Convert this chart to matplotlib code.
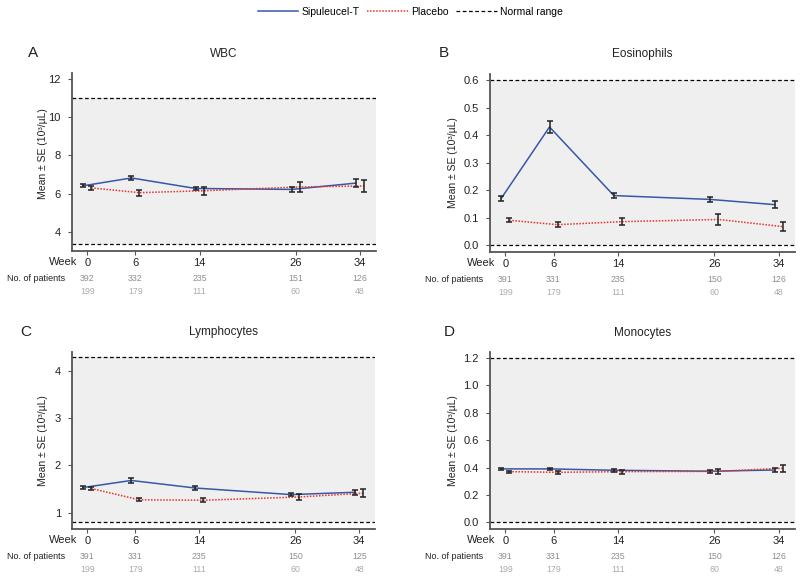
import numpy as np
import matplotlib
matplotlib.use("Agg")
import matplotlib.pyplot as plt
import matplotlib.transforms as mtransforms
from matplotlib.lines import Line2D

plt.rcParams["font.family"] = ["Liberation Sans", "DejaVu Sans"]

weeks = [0, 6, 14, 26, 34]

panels = ["A", "B", "C", "D"]
titles = ["WBC", "Eosinophils", "Lymphocytes", "Monocytes"]

sip_mean = [
    [6.41, 6.82, 6.27, 6.22, 6.55],
    [0.170, 0.430, 0.180, 0.166, 0.147],
    [1.53, 1.68, 1.52, 1.38, 1.43],
    [0.390, 0.390, 0.380, 0.373, 0.382],
]
sip_se = [
    [0.07, 0.12, 0.10, 0.15, 0.20],
    [0.008, 0.022, 0.010, 0.010, 0.012],
    [0.03, 0.05, 0.04, 0.04, 0.05],
    [0.006, 0.010, 0.010, 0.010, 0.012],
]
pla_mean = [
    [6.30, 6.05, 6.15, 6.35, 6.40],
    [0.090, 0.074, 0.085, 0.093, 0.067],
    [1.51, 1.27, 1.26, 1.33, 1.41],
    [0.370, 0.365, 0.370, 0.372, 0.395],
]
pla_se = [
    [0.12, 0.15, 0.22, 0.27, 0.32],
    [0.007, 0.008, 0.012, 0.020, 0.016],
    [0.04, 0.03, 0.04, 0.07, 0.08],
    [0.008, 0.012, 0.015, 0.020, 0.025],
]
normal_range = [(3.35, 11.0), (0.0, 0.6), (0.8, 4.3), (0.0, 1.2)]
ylims = [(3.0, 12.3), (-0.024, 0.624), (0.65, 4.41), (-0.049, 1.241)]
yticks = [[4, 6, 8, 10, 12],
          [0.0, 0.1, 0.2, 0.3, 0.4, 0.5, 0.6],
          [1, 2, 3, 4],
          [0.0, 0.2, 0.4, 0.6, 0.8, 1.0, 1.2]]
yfmt = ["%d", "%.1f", "%d", "%.1f"]

n_sip = [[392, 332, 235, 151, 126],
         [391, 331, 235, 150, 126],
         [391, 331, 235, 150, 125],
         [391, 331, 235, 150, 126]]
n_pla = [[199, 179, 111, 60, 48]] * 4

blue = "#3658a8"
red = "#e8322a"
shade = "#efefef"
spine_col = "#555555"
txt = "#222222"

fig = plt.figure(figsize=(8, 5.83), dpi=100)

# [left, bottom, width, height]
positions = [
    [0.090, 0.5695, 0.380, 0.305],
    [0.6125, 0.5685, 0.381, 0.305],
    [0.090, 0.0926, 0.379, 0.304],
    [0.6125, 0.0926, 0.381, 0.303],
]
letter_x = [-0.128, -0.151, -0.152, -0.135]
ylab_pos = [(-0.079, 0.548), (-0.105, 0.5), (-0.079, 0.5), (-0.105, 0.5)]

off = 0.5
for i in range(4):
    ax = fig.add_axes(positions[i])
    lo, hi = normal_range[i]
    ax.axhspan(lo, hi, color=shade, zorder=0, lw=0)
    ax.axhline(lo, color="k", ls=(0, (3, 2)), lw=0.9, zorder=1)
    ax.axhline(hi, color="k", ls=(0, (3, 2)), lw=0.9, zorder=1)

    xs = np.array(weeks) - off
    xp = np.array(weeks) + off
    ax.plot(xs, sip_mean[i], color=blue, lw=1.1, zorder=3)
    ax.plot(xp, pla_mean[i], color=red, lw=1.1, ls=(0, (1, 1)), zorder=3)
    ax.errorbar(xs, sip_mean[i], yerr=sip_se[i], fmt="none", ecolor="#222222",
                elinewidth=1.1, capsize=2.5, capthick=1.1, zorder=4)
    ax.errorbar(xp, pla_mean[i], yerr=pla_se[i], fmt="none", ecolor="#222222",
                elinewidth=1.1, capsize=2.5, capthick=1.1, zorder=4)

    ax.set_xlim(-1.9, 36.0)
    ax.set_ylim(*ylims[i])
    ax.set_yticks(yticks[i])
    ax.set_yticklabels([yfmt[i] % v for v in yticks[i]], fontsize=8, color=txt)
    ax.set_xticks(weeks)
    ax.set_xticklabels([str(w) for w in weeks], fontsize=8, color=txt)
    ax.tick_params(axis="x", length=3, color=spine_col, pad=2)
    ax.tick_params(axis="y", length=3, color=spine_col, pad=5)
    for s in ["top", "right"]:
        ax.spines[s].set_visible(False)
    for s in ["left", "bottom"]:
        ax.spines[s].set_color(spine_col)
        ax.spines[s].set_linewidth(1.3)
    ax.set_ylabel("Mean ± SE (10³/µL)", fontsize=7.5, color=txt)
    ax.yaxis.set_label_coords(*ylab_pos[i])

    ax.text(0.016, -0.062, "Week", transform=ax.transAxes, ha="right", va="center",
            fontsize=8, color=txt)
    ax.text(-0.214, -0.157, "No. of patients",
            transform=ax.transAxes, ha="left", va="center", fontsize=6.5, color=txt)
    trans = mtransforms.blended_transform_factory(ax.transData, ax.transAxes)
    for w, a, b in zip(weeks, n_sip[i], n_pla[i]):
        ax.text(w, -0.157, str(a), transform=trans, ha="center", va="center",
                fontsize=6.3, color="#8f8f8f")
        ax.text(w, -0.230, str(b), transform=trans, ha="center", va="center",
                fontsize=6.3, color="#ababab")

    ax.text(letter_x[i], 1.114, panels[i], transform=ax.transAxes,
            ha="center", va="center", fontsize=11, color=txt)
    ax.text(0.5, 1.11, titles[i], transform=ax.transAxes,
            ha="center", va="center", fontsize=8.5, color=txt)

handles = [Line2D([], [], color=blue, lw=1.1),
           Line2D([], [], color=red, lw=1.1, ls=(0, (1, 1))),
           Line2D([], [], color="k", lw=0.9, ls=(0, (3, 2)))]
fig.legend(handles, ["Sipuleucel-T", "Placebo", "Normal range"], loc="center",
           bbox_to_anchor=(0.513, 0.98), ncol=3, frameon=False, fontsize=7.5,
           handlelength=3.9, columnspacing=0.7, handletextpad=0.35)

fig.savefig("out.png", dpi=100)
